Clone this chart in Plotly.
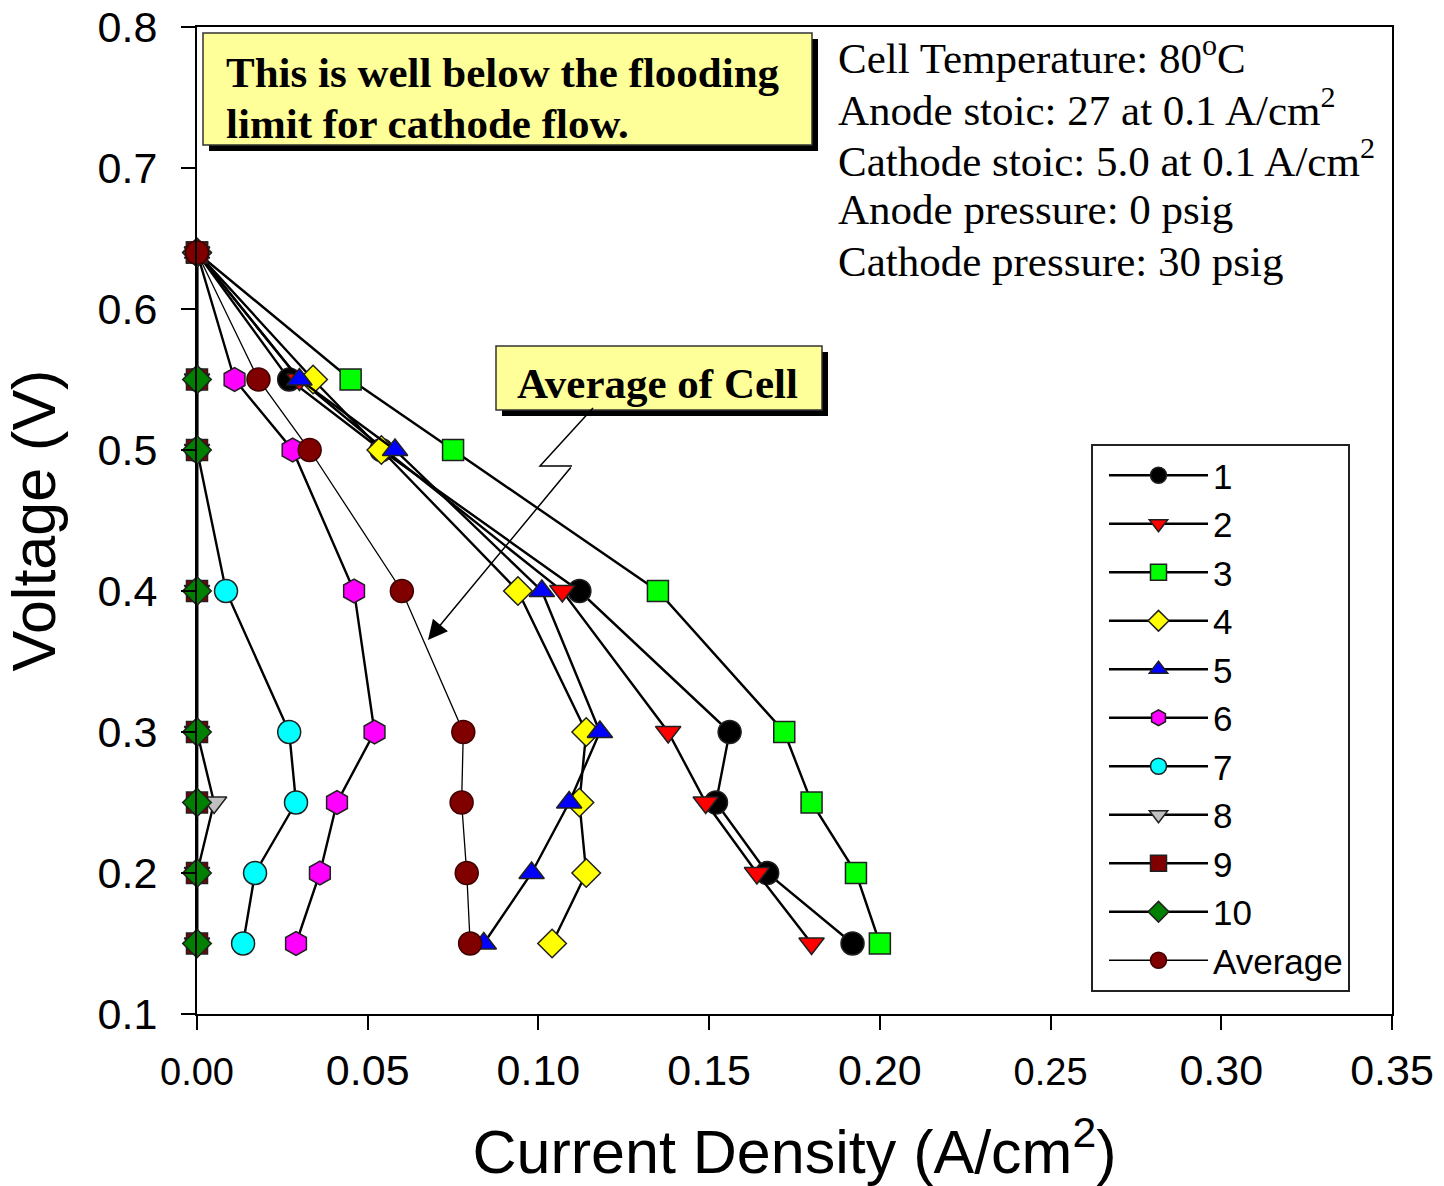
import plotly.graph_objects as go

# ---------------- data ----------------
voltage = [0.64, 0.55, 0.50, 0.40, 0.30, 0.25, 0.20, 0.15]

cell1 = [0.0, 0.027, 0.054, 0.112, 0.156, 0.152, 0.167, 0.192]
cell2 = [0.0, 0.030, 0.055, 0.107, 0.138, 0.149, 0.164, 0.180]
cell3 = [0.0, 0.045, 0.075, 0.135, 0.172, 0.180, 0.193, 0.200]
cell4 = [0.0, 0.034, 0.054, 0.094, 0.114, 0.112, 0.114, 0.104]
cell5 = [0.0, 0.030, 0.058, 0.101, 0.118, 0.109, 0.098, 0.084]
cell6 = [0.0, 0.011, 0.028, 0.046, 0.052, 0.041, 0.036, 0.029]
cell7 = [0.0, 0.0, 0.0, 0.0085, 0.027, 0.029, 0.017, 0.0135]
cell8 = [0.0, 0.0, 0.0, 0.0, 0.0, 0.005, 0.0, 0.0]
cell9 = [0.0, 0.0, 0.0, 0.0, 0.0, 0.0, 0.0, 0.0]
cell10 = [0.0, 0.0, 0.0, 0.0, 0.0, 0.0, 0.0, 0.0]
average = [0.0, 0.018, 0.033, 0.060, 0.078, 0.0775, 0.079, 0.080]

series_names = ["1", "2", "3", "4", "5", "6", "7", "8", "9", "10", "Average"]
series_values = [cell1, cell2, cell3, cell4, cell5, cell6, cell7, cell8, cell9, cell10, average]

x_tickvals = [0.0, 0.05, 0.10, 0.15, 0.20, 0.25, 0.30, 0.35]
x_ticktext = ["0.00", "0.05", "0.10", "0.15", "0.20", "0.25", "0.30", "0.35"]
y_tickvals = [0.1, 0.2, 0.3, 0.4, 0.5, 0.6, 0.7, 0.8]

conditions = [
    "Cell Temperature: 80<sup>o</sup>C",
    "Anode stoic: 27 at 0.1 A/cm<sup>2</sup>",
    "Cathode stoic: 5.0 at 0.1 A/cm<sup>2</sup>",
    "Anode pressure: 0 psig",
    "Cathode pressure: 30 psig",
]
note_lines = ["This is well below the flooding", "limit for cathode flow."]
callout_text = "Average of Cell"

# ---------------- styles ----------------
styles = [
    dict(symbol="circle", color="#000000", size=23),
    dict(symbol="triangle-down", color="#FF0000", size=22),
    dict(symbol="square", color="#00FF00", size=21),
    dict(symbol="diamond", color="#FFFF00", size=22),
    dict(symbol="triangle-up", color="#0000FF", size=22),
    dict(symbol="hexagon", color="#FF00FF", size=24),
    dict(symbol="circle", color="#00FFFF", size=23),
    dict(symbol="triangle-down", color="#C0C0C0", size=22),
    dict(symbol="square", color="#800000", size=21),
    dict(symbol="diamond", color="#008000", size=22),
    dict(symbol="circle", color="#800000", size=23),
]

fig = go.Figure()
for name, vals, st in zip(series_names, series_values, styles):
    is_avg = name == "Average"
    fig.add_trace(go.Scatter(
        x=vals, y=voltage, name=name, mode="lines+markers",
        cliponaxis=False,
        line=dict(color="black", width=1.3 if is_avg else 2.4),
        marker=dict(symbol=st["symbol"], color=st["color"], size=st["size"],
                    line=dict(color="#202020" if not is_avg else "#400000", width=1.5)),
    ))

SANS = "Liberation Sans, Arial, sans-serif"
SERIF = "Liberation Serif, Times New Roman, serif"

x_ticktext_fmt = [
    (f'<span style="font-size:38px">{t}</span>' if t in ("0.00", "0.25") else t)
    for t in x_ticktext
]

fig.update_layout(
    width=1444, height=1186,
    margin=dict(l=197, r=52, t=27, b=172, autoexpand=False),
    paper_bgcolor="white", plot_bgcolor="white",
    font=dict(family=SANS, color="black"),
    showlegend=True,
    legend=dict(
        x=(1091 - 197) / 1195, y=(1014 - 444) / 987,
        xanchor="left", yanchor="top",
        bgcolor="white", bordercolor="#222222", borderwidth=2,
        font=dict(family=SANS, size=35, color="black"),
        itemwidth=99, indentation=11,
    ),
    xaxis=dict(
        range=[0, 0.35], tickvals=x_tickvals, ticktext=x_ticktext_fmt,
        ticks="outside", ticklen=14, tickwidth=2, tickcolor="black",
        showline=True, linecolor="black", linewidth=2, mirror=True,
        showgrid=False, zeroline=False, automargin=False,
        tickfont=dict(family=SANS, size=43, color="black"),
        ticklabelstandoff=3,
        title=dict(text="Current Density (A/cm<sup>2</sup>)",
                   font=dict(family=SANS, size=61, color="black"), standoff=38),
    ),
    yaxis=dict(
        range=[0.1, 0.8], tickvals=y_tickvals, tickformat=".1f",
        ticks="outside", ticklen=14, tickwidth=2, tickcolor="black",
        showline=True, linecolor="black", linewidth=2, mirror=True,
        showgrid=False, zeroline=False, automargin=False,
        tickfont=dict(family=SANS, size=43, color="black"),
        ticklabelstandoff=15,
        title=dict(text="Voltage (V)",
                   font=dict(family=SANS, size=61, color="black"), standoff=27),
    ),
)

def px_x(p):
    return (p - 197) / 1195

def px_y(p):
    return (1014 - p) / 987

shapes = []
# Box 1 shadow + box
shapes.append(dict(type="rect", xref="paper", yref="paper",
                   x0=px_x(209), x1=px_x(818), y0=px_y(151), y1=px_y(39),
                   fillcolor="black", line=dict(width=0), layer="above"))
shapes.append(dict(type="rect", xref="paper", yref="paper",
                   x0=px_x(203), x1=px_x(812), y0=px_y(145), y1=px_y(33),
                   fillcolor="#FFFF99", line=dict(color="#333333", width=1.5), layer="above"))
# Box 2 shadow + box
shapes.append(dict(type="rect", xref="paper", yref="paper",
                   x0=px_x(502), x1=px_x(828), y0=px_y(416), y1=px_y(352),
                   fillcolor="black", line=dict(width=0), layer="above"))
shapes.append(dict(type="rect", xref="paper", yref="paper",
                   x0=px_x(496), x1=px_x(822), y0=px_y(410), y1=px_y(346),
                   fillcolor="#FFFF99", line=dict(color="#333333", width=1.5), layer="above"))
# zig-zag leader line
p1 = (px_x(593), px_y(408))
p2 = (px_x(540), px_y(466))
p3 = (px_x(572), px_y(466))
shapes.append(dict(type="path", xref="paper", yref="paper",
                   path=f"M {p1[0]},{p1[1]} L {p2[0]},{p2[1]} L {p3[0]},{p3[1]}",
                   line=dict(color="black", width=1.5), layer="above"))
fig.update_layout(shapes=shapes)

annotations = []
for i, line in enumerate(note_lines):
    annotations.append(dict(
        xref="paper", yref="paper", x=px_x(224), y=px_y(72 + 51 * i),
        xanchor="left", yanchor="middle", align="left", showarrow=False,
        text=f"<b>{line}</b>", font=dict(family=SERIF, size=43, color="black")))
annotations.append(dict(
    xref="paper", yref="paper", x=px_x(657), y=px_y(383),
    xanchor="center", yanchor="middle", showarrow=False,
    text=f"<b>{callout_text}</b>", font=dict(family=SERIF, size=43, color="black")))
for i, line in enumerate(conditions):
    annotations.append(dict(
        xref="paper", yref="paper", x=px_x(836), y=px_y(55 + 51.5 * i),
        xanchor="left", yanchor="middle", align="left", showarrow=False,
        text=line, font=dict(family=SERIF, size=43, color="black")))
annotations.append(dict(
    xref="paper", yref="paper", x=px_x(428), y=px_y(640),
    axref="pixel", ayref="pixel", ax=572 - 428, ay=466 - 640,
    text="", showarrow=True, arrowhead=2, arrowsize=2.6, arrowwidth=1.5,
    arrowcolor="black"))
fig.update_layout(annotations=annotations)

fig.write_html("out.html")
